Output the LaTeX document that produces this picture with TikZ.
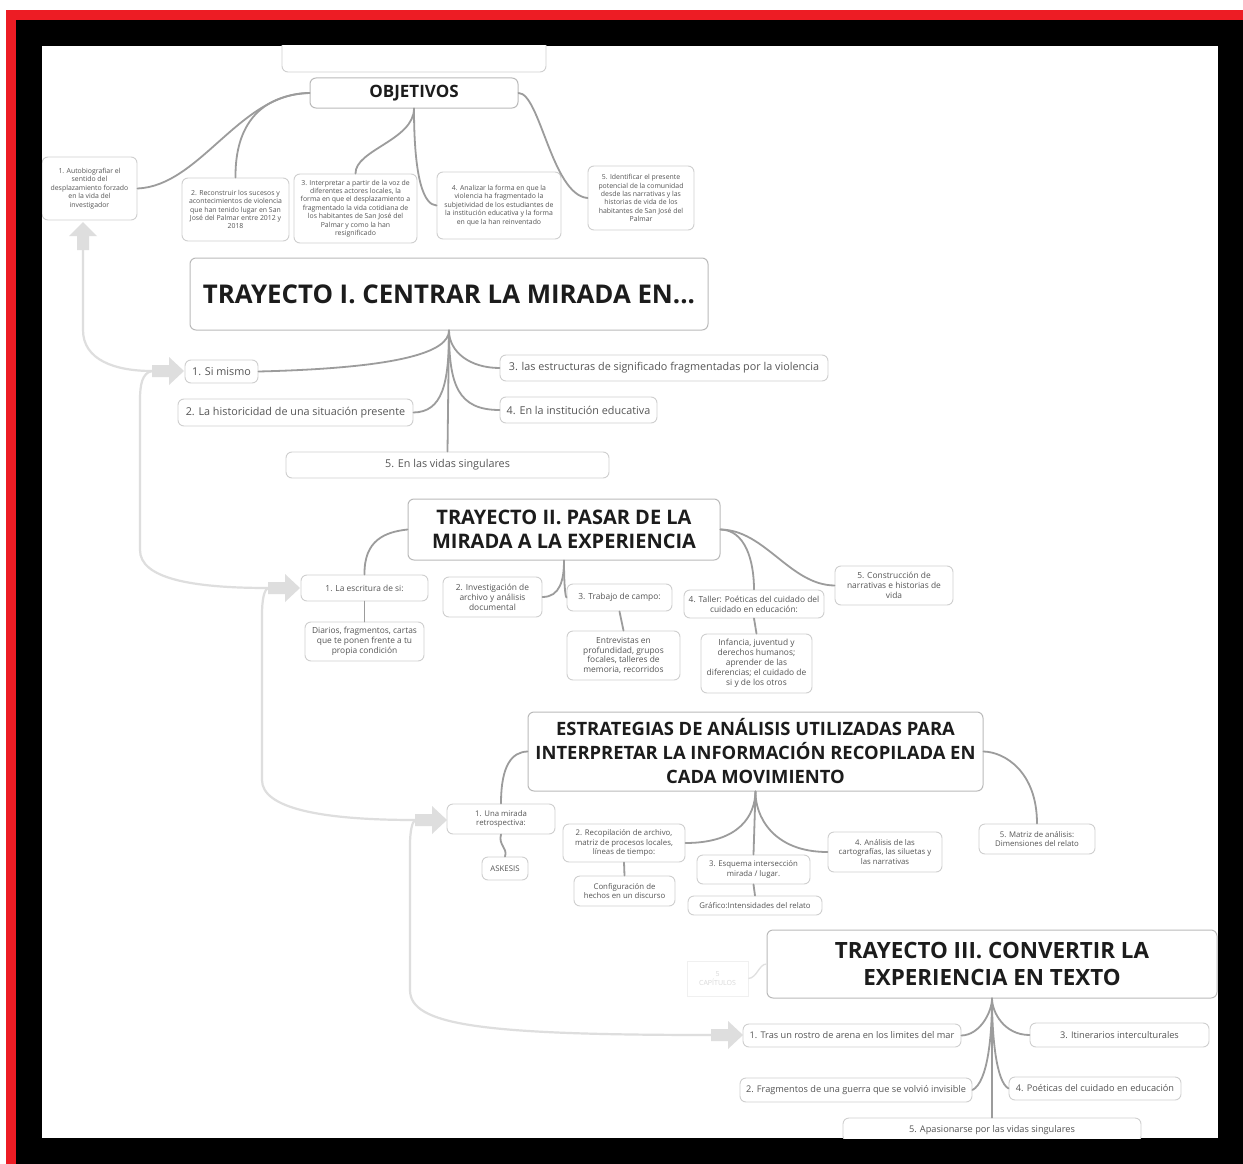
\documentclass[tikz,border=0pt]{standalone}
\usepackage{fontspec}
\setmainfont{Open Sans}
\definecolor{frred}{HTML}{ED1C24}
\definecolor{bxline}{HTML}{CFCFCF}
\definecolor{txt}{HTML}{555555}
\definecolor{ttl}{HTML}{1C1C1C}
\definecolor{conn}{HTML}{9C9C9C}
\definecolor{flow}{HTML}{DEDEDE}
\tikzset{
  bx/.style={draw=bxline,line width=0.9pt,rounded corners=6pt,fill=white,align=center,inner sep=0pt,text=txt},
  ttlbox/.style={bx,draw=bxline!90!black,line width=1pt,text=ttl,font=\bfseries},
  fobj/.style={font=\fontsize{6.9}{8.4}\selectfont},
  fone/.style={font=\fontsize{10.8}{12}\selectfont},
  ftwo/.style={font=\fontsize{8.4}{9.9}\selectfont},
  fthr/.style={font=\fontsize{7.8}{9.2}\selectfont},
  ffour/.style={font=\fontsize{9.2}{11}\selectfont},
  cn/.style={draw=conn,line width=1.8pt,line cap=round},
  fl/.style={draw=flow,line width=2.2pt},
  fa/.style={fill=flow,draw=none}
}
\newcommand\fatright[2]{\fill[fa] (#1,#2) -- (#1-15,#2-14) -- (#1-15,#2-6) -- (#1-32,#2-6) -- (#1-32,#2+6) -- (#1-15,#2+6) -- (#1-15,#2+14) -- cycle;}
\begin{document}
\begin{tikzpicture}[x=1pt,y=-1pt]
\useasboundingbox (0,0) rectangle (1243,1164);
\fill[white] (0,0) rectangle (1243,1164);
\fill[frred] (6,10) rectangle (1243,1164);
\fill[black] (16,20) rectangle (1243,1164);
\fill[white] (42,46) rectangle (1218,1138);
\begin{scope}
\clip (42,46) rectangle (1218,1138);
% flow lines
\coordinate (up0) at (83,250);
\coordinate (fa1) at (152,371);
\coordinate (fa2) at (268,588);
\coordinate (fa3) at (415,820);
\coordinate (fa4) at (711,1035);
\draw[fl] (up0) -- (83,330) .. controls (83,360) and (115,371) .. (fa1);
\draw[fl] (fa1) .. controls (142,373) and (140,385) .. (140,400) -- (140,550) .. controls (140,578) and (190,588) .. (fa2);
\draw[fl] (fa2) .. controls (264,590) and (262,600) .. (262,615) -- (262,780) .. controls (262,808) and (320,820) .. (fa3);
\draw[fl] (fa3) .. controls (412,822) and (410,832) .. (410,845) -- (410,990) .. controls (410,1025) and (480,1035) .. (fa4);
\fill[fa] (83,222) -- (69,236) -- (77,236) -- (77,250) -- (89,250) -- (89,236) -- (97,236) -- cycle;
\fatright{184}{371}
\fatright{300}{588}
\fatright{447}{820}
\fatright{743}{1035}

% top partial box
\node[bx,minimum width=264,minimum height=37] (top) at (414,53.5) {};
% OBJETIVOS
\node[ttlbox,font=\fontsize{17}{19}\selectfont\bfseries,minimum width=208,minimum height=30] (obj) at (414,93) {OBJETIVOS};
\node[bx,fobj,minimum width=95,minimum height=63] (o1) at (89.5,188.5) {1. Autobiografiar el\\sentido del\\desplazamiento forzado\\en la vida del\\investigador};
\node[bx,fobj,minimum width=107,minimum height=63] (o2) at (235.5,209.5) {2. Reconstruir los sucesos y\\acontecimientos de violencia\\que han tenido lugar en San\\José del Palmar entre 2012 y\\2018};
\node[bx,fobj,minimum width=123,minimum height=69] (o3) at (355.5,208.5) {3. Interpretar a partir de la voz de\\diferentes actores locales, la\\forma en que el desplazamiento a\\fragmentado la vida cotidiana de\\los habitantes de San José del\\Palmar y como la han\\resignificado};
\node[bx,fobj,minimum width=124,minimum height=67] (o4) at (499,205.5) {4. Analizar la forma en que la\\violencia ha fragmentado la\\subjetividad de los estudiantes de\\la institución educativa y la forma\\en que la han reinventado};
\node[bx,fobj,minimum width=106,minimum height=64] (o5) at (641,198) {5. Identificar el presente\\potencial de la comunidad\\desde las narrativas y las\\historias de vida de los\\habitantes de San José del\\Palmar};
\draw[cn] (o1.east) .. controls (200,186) and (240,93) .. (obj.west);
\draw[cn] (o2.north) .. controls (235,125) and (260,95) .. (obj.west);
\draw[cn] (o3.north) .. controls (355,150) and (414,140) .. (obj.south);
\draw[cn] (o4.west) .. controls (424,205) and (414,180) .. (obj.south);
\draw[cn] (o5.west) .. controls (552,195) and (540,93) .. (obj.east);

% TRAYECTO I
\node[ttlbox,font=\fontsize{25.8}{30}\selectfont\bfseries,minimum width=518,minimum height=72] (t0) at (449,294) {TRAYECTO I. CENTRAR LA MIRADA EN...};
\node[bx,fone,minimum width=73,minimum height=23] (t1) at (221.5,371.5) {1. Si mismo};
\node[bx,fone,minimum width=328,minimum height=26] (t3) at (664,368) {3. las estructuras de significado fragmentadas por la violencia};
\node[bx,fone,minimum width=235,minimum height=27] (t2) at (295.5,412.5) {2. La historicidad de una situación presente};
\node[bx,fone,minimum width=157,minimum height=26] (t4) at (578.5,410) {4. En la institución educativa};
\node[bx,fone,minimum width=323,minimum height=26] (t5) at (447.5,465) {5. En las vidas singulares};
\draw[cn] (t1.east) .. controls (400,368) and (449,352) .. (t0.south);
\draw[cn] (t3.west) .. controls (470,368) and (449,352) .. (t0.south);
\draw[cn] (t2.east) .. controls (442,412) and (449,385) .. (t0.south);
\draw[cn] (t4.west) .. controls (458,410) and (449,385) .. (t0.south);
\draw[cn] (t5.north) -- (t0.south);

% TRAYECTO II
\node[ttlbox,font=\fontsize{20}{24.5}\selectfont\bfseries,minimum width=312,minimum height=61] (s0) at (564,529.5) {TRAYECTO II. PASAR DE LA\\MIRADA A LA EXPERIENCIA};
\node[bx,ftwo,minimum width=127,minimum height=26] (s1) at (364.5,588) {1. La escritura de si:};
\node[bx,ftwo,minimum width=119,minimum height=39] (s1a) at (364.5,641.5) {Diarios, fragmentos, cartas\\que te ponen frente a tu\\propia condición};
\node[bx,ftwo,minimum width=99,minimum height=40] (s2) at (492.5,597) {2. Investigación de\\archivo y análisis\\documental};
\node[bx,ftwo,minimum width=105,minimum height=27] (s3) at (619.5,597.5) {3. Trabajo de campo:};
\node[bx,ftwo,minimum width=113,minimum height=49] (s3a) at (623.5,655.5) {Entrevistas en\\profundidad, grupos\\focales, talleres de\\memoria, recorridos};
\node[bx,ftwo,minimum width=140,minimum height=28] (s4) at (754,604) {4. Taller: Poéticas del cuidado del\\cuidado en educación:};
\node[bx,ftwo,minimum width=111,minimum height=59] (s4a) at (756.5,663.5) {Infancia, juventud y\\derechos humanos;\\aprender de las\\diferencias; el cuidado de\\si y de los otros};
\node[bx,ftwo,minimum width=118,minimum height=39] (s5) at (894,585.5) {5. Construcción de\\narrativas e historias de\\vida};
\draw[cn] (s1.north) .. controls (364,540) and (385,532) .. (s0.west);
\draw[cn] (s1.south) -- (s1a.north);
\draw[cn] (s2.east) .. controls (560,597) and (564,580) .. (s0.south);
\draw[cn] (s3.west) .. controls (565,597) and (564,580) .. (s0.south);
\draw[cn] (s3.south) -- (s3a.north);
\draw[cn] (s4.north) .. controls (754,560) and (745,530) .. (s0.east);
\draw[cn] (s4.south) -- (s4a.north);
\draw[cn] (s5.west) .. controls (790,585) and (765,530) .. (s0.east);

% ESTRATEGIAS
\node[ttlbox,font=\fontsize{18.4}{24}\selectfont\bfseries,minimum width=455,minimum height=79] (e0) at (755.5,751.5) {ESTRATEGIAS DE ANÁLISIS UTILIZADAS PARA\\INTERPRETAR LA INFORMACIÓN RECOPILADA EN\\CADA MOVIMIENTO};
\node[bx,fthr,minimum width=108,minimum height=30] (e1) at (501,819) {1. Una mirada\\retrospectiva:};
\node[bx,fthr,minimum width=46,minimum height=23] (e1a) at (505,868.5) {ASKESIS};
\node[bx,fthr,minimum width=122,minimum height=38] (e2) at (624,843) {2. Recopilación de archivo,\\matriz de procesos locales,\\líneas de tiempo:};
\node[bx,fthr,minimum width=101,minimum height=30] (e2a) at (624.5,891) {Configuración de\\hechos en un discurso};
\node[bx,fthr,minimum width=113,minimum height=29] (e3) at (753.5,869.5) {3. Esquema intersección\\mirada / lugar.};
\node[bx,fthr,minimum width=134,minimum height=19] (e3a) at (755,905.5) {Gráfico:Intensidades del relato};
\node[bx,fthr,minimum width=114,minimum height=40] (e4) at (885,852) {4. Análisis de las\\cartografías, las siluetas y\\las narrativas};
\node[bx,fthr,minimum width=116,minimum height=30] (e5) at (1037,839) {5. Matriz de análisis:\\Dimensiones del relato};
\draw[cn] (e1.north) .. controls (501,765) and (512,752) .. (e0.west);
\draw[cn] (e1.south) .. controls (498,845) and (508,848) .. (e1a.north);
\draw[cn] (e2.east) .. controls (740,843) and (755,815) .. (e0.south);
\draw[cn] (e2.south) -- (e2a.north);
\draw[cn] (e3.north) -- (e0.south);
\draw[cn] (e3.south) -- (e3a.north);
\draw[cn] (e4.west) .. controls (772,852) and (755,815) .. (e0.south);
\draw[cn] (e5.north) .. controls (1037,772) and (1005,752) .. (e0.east);

% TRAYECTO III
\node[ttlbox,font=\fontsize{22.4}{27}\selectfont\bfseries,minimum width=450,minimum height=68] (r0) at (992,964) {TRAYECTO III. CONVERTIR LA\\EXPERIENCIA EN TEXTO};
\node[draw=black!6,line width=0.8pt,fill=white,align=center,inner sep=0pt,text=black!15,font=\fontsize{7}{8.5}\selectfont,minimum width=61,minimum height=35] (cap) at (717.5,978.5) {5\\CAPÍTULOS};
\draw[draw=black!12,line width=1.3pt] (cap.east) .. controls (757,978) and (759,964) .. (r0.west);
\node[bx,ffour,minimum width=218,minimum height=23] (f1) at (852,1035.5) {1. Tras un rostro de arena en los limites del mar};
\node[bx,ffour,minimum width=179,minimum height=24] (f3) at (1119.5,1035) {3. Itinerarios interculturales};
\node[bx,ffour,minimum width=232,minimum height=24] (f2) at (856,1090) {2. Fragmentos de una guerra que se volvió invisible};
\node[bx,ffour,minimum width=172,minimum height=23] (f4) at (1095,1088.5) {4. Poéticas del cuidado en educación};
\node[bx,ffour,minimum width=298,minimum height=24] (f5) at (992,1130) {5. Apasionarse por las vidas singulares};
\draw[cn] (f1.east) .. controls (980,1035) and (992,1012) .. (r0.south);
\draw[cn] (f3.west) .. controls (1004,1035) and (992,1012) .. (r0.south);
\draw[cn] (f2.east) .. controls (988,1082) and (992,1035) .. (r0.south);
\draw[cn] (f4.west) .. controls (996,1082) and (992,1035) .. (r0.south);
\draw[cn] (f5.north) -- (r0.south);
\end{scope}
\end{tikzpicture}
\end{document}
